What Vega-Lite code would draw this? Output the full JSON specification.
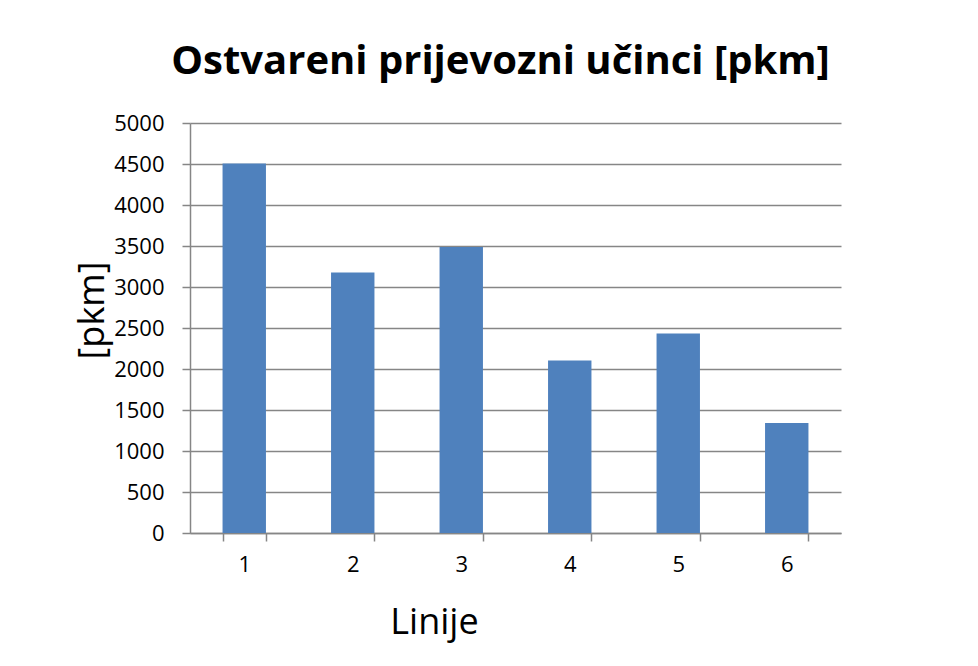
{
  "$schema": "https://vega.github.io/schema/vega-lite/v6.json",
  "autosize": "none",
  "width": 651,
  "height": 410,
  "padding": {"left": 190, "top": 123, "right": 137, "bottom": 133},
  "background": "white",
  "title": {
    "text": "Ostvareni prijevozni učinci [pkm]",
    "font": "Open Sans",
    "fontWeight": "bold",
    "fontSize": 40,
    "color": "black",
    "anchor": "middle",
    "frame": "group",
    "dx": -15,
    "offset": 30
  },
  "data": {
    "values": [
      {"linija": "1", "pkm": 4505},
      {"linija": "2", "pkm": 3176},
      {"linija": "3", "pkm": 3488},
      {"linija": "4", "pkm": 2105},
      {"linija": "5", "pkm": 2433},
      {"linija": "6", "pkm": 1341}
    ]
  },
  "mark": {"type": "bar", "color": "#4f81bd"},
  "encoding": {
    "x": {
      "field": "linija",
      "type": "ordinal",
      "scale": {"paddingInner": 0.6, "paddingOuter": 0.3},
      "axis": {
        "title": "Linije",
        "titleFont": "Open Sans",
        "titleFontWeight": "normal",
        "titleFontSize": 36,
        "titleColor": "black",
        "titleX": 244,
        "titleY": 100,
        "titleBaseline": "alphabetic",
        "labelFont": "Open Sans",
        "labelFontSize": 22,
        "labelColor": "black",
        "labelAngle": 0,
        "labelPadding": 13,
        "tickBand": "extent",
        "tickSize": 8,
        "tickColor": "#868686",
        "tickWidth": 1.5,
        "domainColor": "#868686",
        "domainWidth": 1.5,
        "grid": false
      }
    },
    "y": {
      "field": "pkm",
      "type": "quantitative",
      "scale": {"domain": [0, 5000], "nice": false},
      "axis": {
        "title": "[pkm]",
        "titleFont": "Open Sans",
        "titleFontWeight": "normal",
        "titleFontSize": 36,
        "titleColor": "black",
        "titleY": 187,
        "titlePadding": 2,
        "format": "d",
        "values": [0, 500, 1000, 1500, 2000, 2500, 3000, 3500, 4000, 4500, 5000],
        "labelFont": "Open Sans",
        "labelFontSize": 22,
        "labelColor": "black",
        "labelPadding": 18,
        "tickSize": 8,
        "tickColor": "#868686",
        "tickWidth": 1.5,
        "domainColor": "#868686",
        "domainWidth": 1.5,
        "grid": true,
        "gridColor": "#868686",
        "gridWidth": 1.5,
        "gridOpacity": 1
      }
    }
  },
  "config": {"view": {"stroke": null}}
}
